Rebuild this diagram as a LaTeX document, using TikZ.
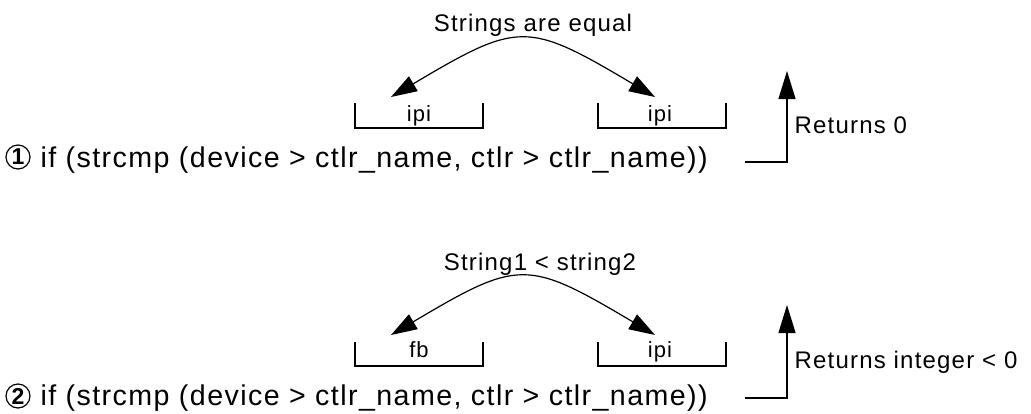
\documentclass[tikz,border=0pt]{standalone}
\usepackage{fontspec}
\setmainfont{Liberation Sans}
\newfontfamily\spaced[LetterSpace=5]{Liberation Sans}
\usetikzlibrary{arrows.meta}
\begin{document}
\begin{tikzpicture}[x=1pt,y=-1pt,line width=1.2pt,
  codetext/.style={anchor=base west,inner sep=0pt,font=\fontsize{28.6}{30}\selectfont\spaced},
  lbl/.style={anchor=base,inner sep=0pt,font=\fontsize{24}{26}\selectfont\spaced},
  retlbl/.style={anchor=base west,inner sep=0pt,font=\fontsize{24}{26}\selectfont\spaced},
  brlbl/.style={anchor=base,inner sep=0pt,font=\fontsize{22}{24}\selectfont\spaced},
  numcirc/.style={circle,draw,line width=1.2pt,minimum size=24pt,inner sep=0pt,font=\fontsize{23}{25}\selectfont\bfseries},
  arcarrow/.style={{Triangle[length=26pt,width=17pt]}-{Triangle[length=26pt,width=17pt]}},
  retarrow/.style={-{Triangle[length=28pt,width=17pt]}},
  bracket/.style={line width=1.2pt}]
\useasboundingbox (0,0) rectangle (1031,413);

% ---------- diagram 1 ----------
\node[numcirc] (c1) at (18,157) {1};
\node[codetext] (t1) at (40,167) {if (strcmp (device > ctlr\_name, ctlr > ctlr\_name))};
\draw[bracket] (355,103) -- (355,128) -- (483,128) -- (483,103);
\draw[bracket] (598,103) -- (598,128) -- (726,128) -- (726,103);
\node[brlbl] (b1l) at (419,121) {ipi};
\node[brlbl] (b1r) at (660,121) {ipi};
\coordinate (a1l) at (391,97);
\coordinate (a1r) at (655,97);
\draw[arcarrow] (a1l) .. controls +(128,-76) and +(-128,-76) .. (a1r);
\node[lbl] (h1) at (533,31) {Strings are equal};
\coordinate (r1s) at (745,162);
\coordinate (r1c) at (787,162);
\coordinate (r1e) at (787,71);
\draw[retarrow] (r1s) -- (r1c) -- (r1e);
\node[retlbl] (rl1) at (794,133) {Returns 0};

% ---------- diagram 2 ----------
\node[numcirc] (c2) at (18,396) {2};
\node[codetext] (t2) at (40,405) {if (strcmp (device > ctlr\_name, ctlr > ctlr\_name))};
\draw[bracket] (355,342) -- (355,366) -- (483,366) -- (483,342);
\draw[bracket] (598,342) -- (598,366) -- (726,366) -- (726,342);
\node[brlbl] (b2l) at (419,357) {fb};
\node[brlbl] (b2r) at (660,357) {ipi};
\coordinate (a2l) at (391,335);
\coordinate (a2r) at (655,335);
\draw[arcarrow] (a2l) .. controls +(128,-76) and +(-128,-76) .. (a2r);
\node[lbl] (h2) at (540,270) {String1 < string2};
\coordinate (r2s) at (745,398);
\coordinate (r2c) at (787,398);
\coordinate (r2e) at (787,305);
\draw[retarrow] (r2s) -- (r2c) -- (r2e);
\node[retlbl] (rl2) at (794,368) {Returns integer < 0};
\end{tikzpicture}
\end{document}
